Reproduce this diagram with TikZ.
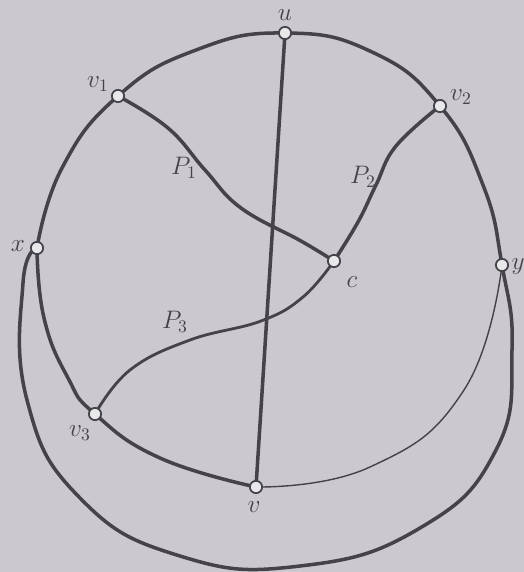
\documentclass[tikz,border=0pt]{standalone}
\usepackage{xcolor}
\usepackage{tikz}
\usetikzlibrary{positioning}
\definecolor{papel}{HTML}{CBC9CF}
\definecolor{tinta}{HTML}{45424A}

\begin{document}
\begin{tikzpicture}[
    x=0.02cm, y=-0.02cm,
    every node/.style={font=\Large, text=tinta},
    arista/.style={draw=tinta, line width=2pt, line cap=round, line join=round},
    fina/.style={draw=tinta, line width=0.8pt},
    vertice/.style={circle, draw=tinta, fill=white!55!papel, line width=1pt, inner sep=0pt, minimum size=7pt}
]
\fill[papel] (0,0) rectangle (524,572);
\useasboundingbox (0,0) rectangle (524,572);

% vertices
\coordinate (u) at (285,33);
\coordinate (v1) at (118,96);
\coordinate (v2) at (440,106);
\coordinate (x) at (37,248);
\coordinate (y) at (502,265);
\coordinate (v3) at (95,414);
\coordinate (v) at (256,487);
\coordinate (c) at (334,261);

% outer curve
\draw[arista] plot[smooth, tension=0.8] coordinates {(x) (62,168) (v1) (196,50) (u) (372,52) (v2) (483,185) (y) (512,350) (496,450) (420,528) (300,566) (180,556) (80,498) (27,400) (23,283) (x)};
\draw[arista] plot[smooth, tension=0.8] coordinates {(x) (44,318) (68,378) (v3) (160,458) (v)};
\draw[fina] plot[smooth, tension=0.8] coordinates {(v) (370,467) (464,390) (y)};
\draw[arista] (u) -- (v);

% paths
\draw[arista] plot[smooth, tension=0.7] coordinates {(v1) (168,128) (205,170) (241,208) (301,241) (c)};
\draw[arista] plot[smooth, tension=0.7] coordinates {(v2) (396,146) (376,185) (358,222) (c)};
\draw[arista, line width=1.6pt] plot[smooth, tension=0.7] coordinates {(v3) (130,370) (190,340) (261,321) (303,297) (c)};

\foreach \p in {u,v1,v2,x,y,v3,v,c}
    \node[vertice] (\p-o) at (\p) {};

% labels
\node (lu) at (285,15) {$u$};
\node (lv1) at (98,84) {$v_1$};
\node (lv2) at (461,97) {$v_2$};
\node (lx) at (18,246) {$x$};
\node (ly) at (518,267) {$y$};
\node (lv3) at (80,433) {$v_3$};
\node (lv) at (254,507) {$v$};
\node (lc) at (352,282) {$c$};
\node (lp1) at (184,168) {$P_1$};
\node (lp2) at (363,177) {$P_2$};
\node (lp3) at (175,322) {$P_3$};
\end{tikzpicture}
\end{document}
